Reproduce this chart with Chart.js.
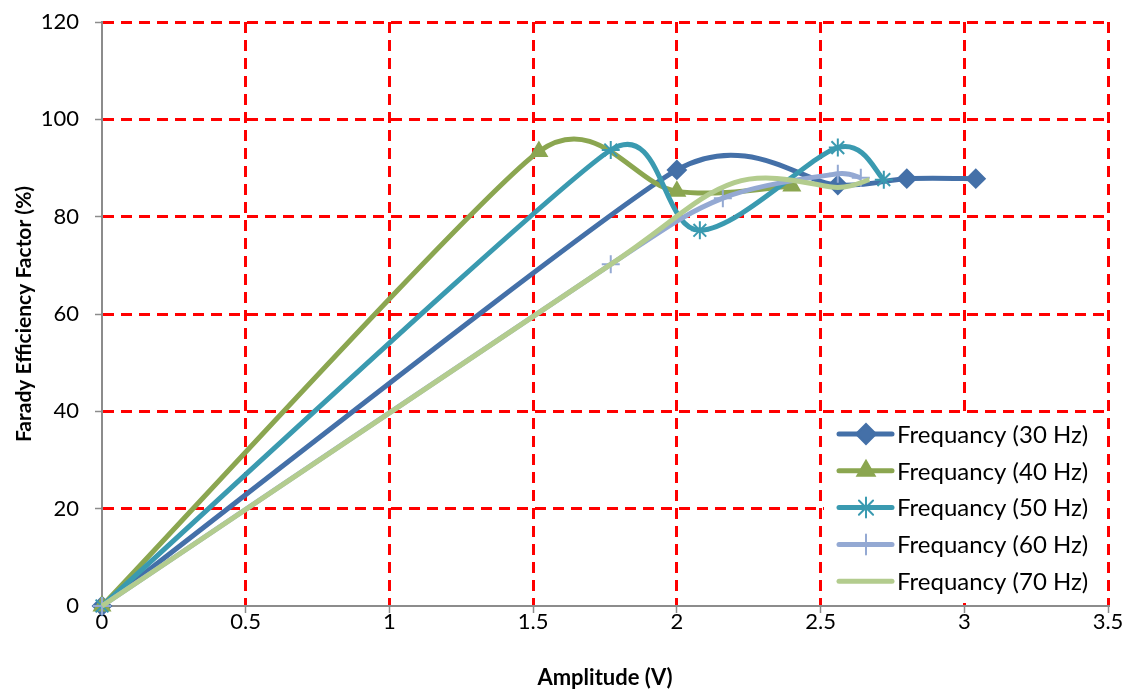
<!DOCTYPE html>
<html>
<head>
<meta charset="utf-8">
<script src="https://cdn.jsdelivr.net/npm/chart.js@4/dist/chart.umd.min.js"></script>
<style>
  html, body { margin: 0; padding: 0; background: #fff; }
  #wrap { width: 1132px; height: 693px; }
</style>
</head>
<body>
<div id="wrap"><canvas id="chart" width="1132" height="693"></canvas></div>
<script>
// values
const labels = ['Frequancy (30 Hz)', 'Frequancy (40 Hz)', 'Frequancy (50 Hz)', 'Frequancy (60 Hz)', 'Frequancy (70 Hz)'];

const f30x = [0, 2.0, 2.56, 2.8, 3.04];
const f30y = [0, 89.6, 86.5, 87.8, 87.8];

const f40x = [0, 1.52, 2.0, 2.4];
const f40y = [0, 93.4, 85.2, 86.3];

const f50x = [0, 1.77, 2.08, 2.56, 2.72];
const f50y = [0, 93.7, 77.2, 94.2, 87.6];

const f60x = [0, 1.77, 2.16, 2.56, 2.64];
const f60y = [0, 70.2, 83.8, 88.8, 88];

const f70x = [0, 1.77, 2.2, 2.56, 2.67];
const f70y = [0, 70.2, 87, 86, 87.6];

const xTicks = [0, 0.5, 1, 1.5, 2, 2.5, 3, 3.5];

const colors = ['#4470a8', '#8ba650', '#3a9ab0', '#94a9d3', '#b3cc8e'];
const markers = ['rectRot', 'triangle', 'star', 'cross', false];
const markerSize = [9, 9, 9, 9, 0];

function pts(xs, ys) {
    return xs.map((x, i) => ({ x: x, y: ys[i] }));
}

const series = [pts(f30x, f30y), pts(f40x, f40y), pts(f50x, f50y), pts(f60x, f60y), pts(f70x, f70y)];

const FONT = 'Lato, "Liberation Sans", sans-serif';

const datasets = series.map((d, i) => ({
    label: labels[i],
    data: d,
    borderColor: colors[i],
    backgroundColor: colors[i],
    borderWidth: 5,
    tension: 0.4,
    pointStyle: markers[i],
    pointRadius: markerSize[i],
    pointBorderWidth: 2,
    pointBorderColor: colors[i],
    pointBackgroundColor: colors[i],
    clip: false,
    order: 5 - i
}));

// spreadsheet-style smoothing: handle = min(d02/6, d01/2, d12/2) along p2-p0
const smoothLines = {
    id: 'smoothLines',
    beforeDatasetsDraw(chart) {
        chart.getSortedVisibleDatasetMetas().forEach(meta => {
            const line = meta.dataset;
            if (!line || !line.updateControlPoints) return;
            line.updateControlPoints(chart.chartArea, 'x');
            const p = meta.data;
            for (let i = 0; i < p.length; i++) {
                const a = p[i - 1] || p[i], b = p[i], c = p[i + 1] || p[i];
                const dx = c.x - a.x, dy = c.y - a.y;
                const d02 = Math.hypot(dx, dy);
                const d01 = Math.hypot(b.x - a.x, b.y - a.y);
                const d12 = Math.hypot(c.x - b.x, c.y - b.y);
                let len = d02 / 6;
                if (i > 0) len = Math.min(len, d01 / 2);
                if (i < p.length - 1) len = Math.min(len, d12 / 2);
                const f = d02 ? len / d02 : 0;
                b.cp1x = b.x - dx * f; b.cp1y = b.y - dy * f;
                b.cp2x = b.x + dx * f; b.cp2y = b.y + dy * f;
            }
            line._pointsUpdated = true;
        });
    }
};

// legend drawn in the lower right corner, like the original
const boxLegend = {
    id: 'boxLegend',
    afterDatasetsDraw(chart) {
        const ctx = chart.ctx;
        const a = chart.chartArea;
        const left = a.right - 284, top = a.bottom - 193;
        ctx.save();
        ctx.fillStyle = '#fff';
        ctx.fillRect(left, top, 282, 190);
        ctx.font = '24px ' + FONT;
        ctx.textBaseline = 'middle';
        chart.data.datasets.forEach((ds, i) => {
            const y = top + 21 + i * 36.8;
            ctx.strokeStyle = ds.borderColor;
            ctx.lineWidth = 5;
            ctx.lineCap = 'round';
            ctx.beginPath();
            ctx.moveTo(left + 15, y);
            ctx.lineTo(left + 68, y);
            ctx.stroke();
            if (ds.pointStyle && Chart.helpers && Chart.helpers.drawPoint) {
                ctx.lineWidth = 2;
                ctx.fillStyle = ds.borderColor;
                Chart.helpers.drawPoint(ctx, {
                    pointStyle: ds.pointStyle,
                    radius: ds.pointRadius + 1,
                    rotation: 0,
                    borderWidth: 2
                }, left + 42, y);
            }
            ctx.fillStyle = '#000';
            ctx.fillText(ds.label, left + 73, y + 1);
        });
        ctx.restore();
    }
};

const gridColor = c => (c.tick && c.tick.value === 0) ? 'rgba(0,0,0,0)' : '#ff0000';

new Chart(document.getElementById('chart'), {
    type: 'line',
    data: { datasets: datasets },
    plugins: [smoothLines, boxLegend],
    options: {
        responsive: false,
        animation: false,
        layout: { padding: { top: 22, right: 24, left: 0, bottom: 0 } },
        plugins: {
            legend: { display: false },
            tooltip: { enabled: false }
        },
        scales: {
            x: {
                type: 'linear',
                min: 0,
                max: 3.5,
                afterBuildTicks: s => { s.ticks = xTicks.map(v => ({ value: v })); },
                afterFit: s => { s.height = 87; },
                ticks: {
                    color: '#000',
                    font: { family: FONT, size: 22 },
                    padding: -4,
                    maxRotation: 0,
                    callback: v => String(v)
                },
                grid: {
                    color: gridColor,
                    lineWidth: 3,
                    tickColor: '#8c8c8c',
                    tickWidth: 1.5,
                    tickLength: 7,
                    tickBorderDash: []
                },
                border: { color: '#8c8c8c', width: 2, dash: [11, 7] },
                title: {
                    display: true,
                    text: 'Amplitude (V)',
                    color: '#000',
                    font: { family: FONT, size: 22, weight: 'bold' },
                    padding: { top: 0, bottom: 2 }
                }
            },
            y: {
                min: 0,
                max: 120,
                afterFit: s => { s.width = 102; s.paddingTop = 0; s.paddingBottom = 0; },
                ticks: {
                    stepSize: 20,
                    color: '#000',
                    font: { family: FONT, size: 22 },
                    padding: 16
                },
                grid: {
                    color: gridColor,
                    lineWidth: 3,
                    tickColor: '#8c8c8c',
                    tickWidth: 1.5,
                    tickLength: 7,
                    tickBorderDash: []
                },
                border: { color: '#8c8c8c', width: 2, dash: [11, 7] },
                title: {
                    display: true,
                    text: 'Farady Efficiency Factor (%)',
                    color: '#000',
                    font: { family: FONT, size: 21, weight: 'bold' },
                    padding: { top: 12, bottom: 4 }
                }
            }
        }
    }
});
</script>
</body>
</html>
